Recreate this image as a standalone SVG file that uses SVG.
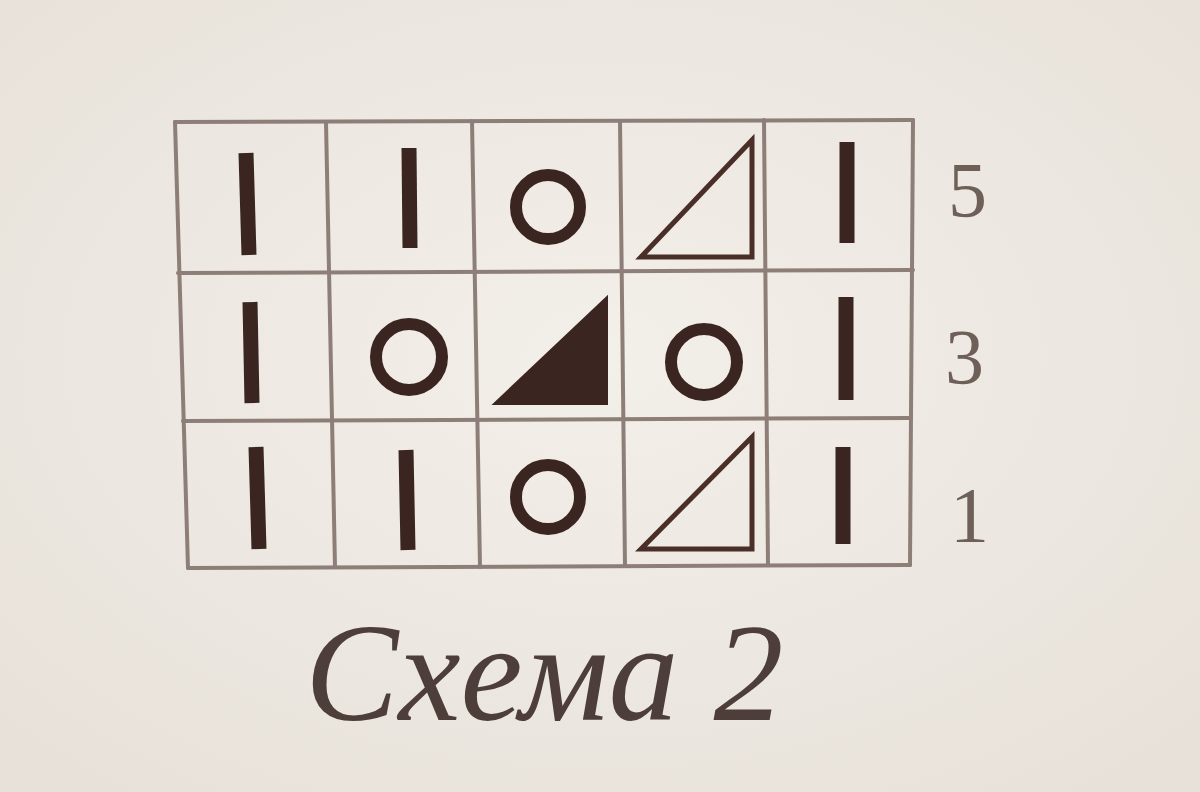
<svg xmlns="http://www.w3.org/2000/svg" width="1200" height="792" viewBox="0 0 1200 792">
<defs>
<radialGradient id="bg" cx="0.5" cy="0.45" r="0.75">
<stop offset="0" stop-color="#f3efe9"/>
<stop offset="1" stop-color="#e6e0d8"/>
</radialGradient>
</defs>
<style>
.grid line{stroke:#8d7f78;stroke-width:4;stroke-linecap:round}
.bar{stroke:#3b2520;stroke-width:15;stroke-linecap:butt}
.ring{fill:none;stroke:#3b2520;stroke-width:12}
.tri{fill:none;stroke:#4a2e28;stroke-width:5;stroke-linejoin:miter}
.solid{fill:#3b2520;stroke:#3b2520;stroke-width:2}
.num{font-family:"Liberation Serif",serif;font-size:78px;fill:#6e6059}
.cap{font-family:"Liberation Serif",serif;font-style:italic;font-size:140px;fill:#4e3e39}
</style>
<rect width="1200" height="792" fill="url(#bg)"/>
<g id="grid" class="grid">
<line x1="175" y1="122" x2="913" y2="120"/>
<line x1="178" y1="273" x2="913" y2="270"/>
<line x1="183" y1="421" x2="911" y2="418"/>
<line x1="188" y1="568" x2="910" y2="565"/>
<line x1="175" y1="122" x2="188" y2="568"/>
<line x1="326" y1="122" x2="335" y2="567"/>
<line x1="472" y1="121" x2="480" y2="567"/>
<line x1="620" y1="121" x2="625" y2="566"/>
<line x1="764" y1="120" x2="768" y2="565"/>
<line x1="913" y1="120" x2="910" y2="565"/>
</g>
<g id="row5">
<line class="bar" x1="246" y1="153" x2="249" y2="255"/>
<line class="bar" x1="409" y1="148" x2="410" y2="248"/>
<circle class="ring" cx="548" cy="207" r="32"/>
<polygon class="tri" points="641,257 752,140 752,257"/>
<line class="bar" x1="847" y1="142" x2="847" y2="243"/>
</g>
<g id="row3">
<line class="bar" x1="250" y1="302" x2="252" y2="403"/>
<circle class="ring" cx="409" cy="357" r="33"/>
<polygon class="solid" points="494,404 607,297 607,404"/>
<circle class="ring" cx="704" cy="362" r="33"/>
<line class="bar" x1="846" y1="297" x2="846" y2="400"/>
</g>
<g id="row1">
<line class="bar" x1="256" y1="447" x2="259" y2="549"/>
<line class="bar" x1="406" y1="450" x2="408" y2="550"/>
<circle class="ring" cx="548" cy="497" r="32"/>
<polygon class="tri" points="641,549 752,437 752,549"/>
<line class="bar" x1="843" y1="447" x2="843" y2="544"/>
</g>
<g id="labels">
<text class="num" x="948" y="216">5</text>
<text class="num" x="945" y="383">3</text>
<text class="num" x="950" y="541">1</text>
<text class="cap" x="305" y="720">Схема 2</text>
</g>
</svg>
